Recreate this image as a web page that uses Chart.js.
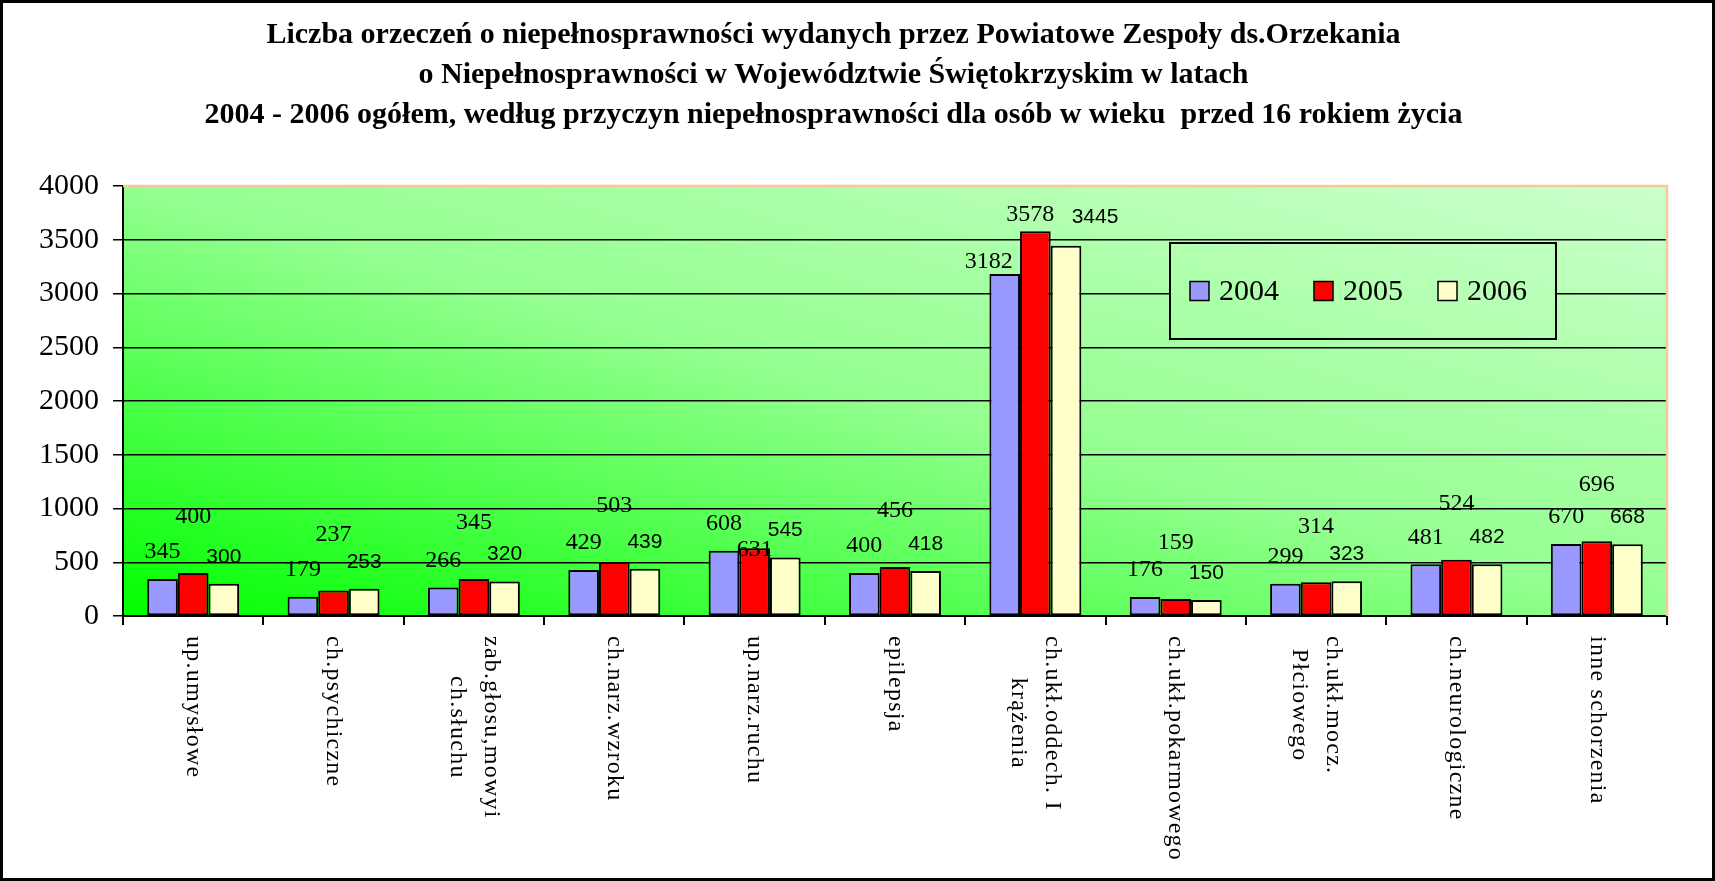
<!DOCTYPE html>
<html>
<head>
<meta charset="utf-8">
<script src="https://cdn.jsdelivr.net/npm/chart.js@4.4.0/dist/chart.umd.min.js"></script>
<style>
  html, body { margin: 0; padding: 0; background: #fff; }
  canvas { display: block; }
</style>
</head>
<body>
<canvas id="wykres" width="1715" height="881"></canvas>
<script>
// Dane
const kategorie = [
    'up.umysłowe',
    'ch.psychiczne',
    ['zab.głosu,mowyi', 'ch.słuchu'],
    'ch.narz.wzroku',
    'up.narz.ruchu',
    'epilepsja',
    ['ch.ukł.oddech. I', 'krążenia'],
    'ch.ukł.pokarmowego',
    ['ch.ukł.mocz.', 'Płciowego'],
    'ch.neurologiczne',
    'inne schorzenia'
];
const lata = ['2004', '2005', '2006'];
const dane2004 = [345, 179, 266, 429, 608, 400, 3182, 176, 299, 481, 670];
const dane2005 = [400, 237, 345, 503, 631, 456, 3578, 159, 314, 524, 696];
const dane2006 = [300, 253, 320, 439, 545, 418, 3445, 150, 323, 482, 668];
const osY = [0, 500, 1000, 1500, 2000, 2500, 3000, 3500, 4000];

const tytul = [
    'Liczba orzeczeń o niepełnosprawności wydanych przez Powiatowe Zespoły ds.Orzekania',
    'o Niepełnosprawności w Województwie Świętokrzyskim w latach',
    '2004 - 2006 ogółem, według przyczyn niepełnosprawności dla osób w wieku  przed 16 rokiem życia'
];

const kolory = ['#9999ff', '#ff0000', '#ffffcc'];

// Styl etykiet danych: odstęp nad słupkiem (px) dla serii + kilka ręcznych wyjątków jak w oryginale
const odstepy = [27, 56, 27];
const wyjatki = {
    '0:6': { dy: 12, dx: -16 },
    '1:4': { dy: -2, dx: 0 },
    '1:6': { dy: 17, dx: -5 },
    '2:6': { dy: 28, dx: 29 }
};
const fontyEtykiet = ['24px "Liberation Serif"', '24px "Liberation Serif"', '21px "Liberation Sans"'];

/**
 * Gradient "po przekątnej w górę" dopasowany do prostokąta obszaru wykresu
 */
function gradient(ctx, a) {
    const w = a.right - a.left, h = a.bottom - a.top;
    const gx = 1 / (2 * w), gy = -1 / (2 * h);
    const g2 = gx * gx + gy * gy;
    const g = ctx.createLinearGradient(a.left, a.bottom, a.left + gx / g2, a.bottom + gy / g2);
    g.addColorStop(0, '#00ff00');
    g.addColorStop(0.5, '#94ff90');
    g.addColorStop(1, '#ccffcc');
    return g;
}

const tlo = {
    id: 'tlo',
    beforeDraw(chart) {
        const { ctx, chartArea: a } = chart;
        ctx.save();
        ctx.fillStyle = '#fff';
        ctx.fillRect(0, 0, chart.width, chart.height);
        ctx.fillStyle = gradient(ctx, a);
        ctx.fillRect(a.left, a.top, a.right - a.left, a.bottom - a.top);
        ctx.restore();
    },
    afterDraw(chart) {
        const { ctx, chartArea: a } = chart;
        ctx.save();
        // brzoskwiniowa ramka u góry i z prawej
        ctx.strokeStyle = '#f8c898';
        ctx.lineWidth = 2.5;
        ctx.beginPath();
        ctx.moveTo(a.left, a.top);
        ctx.lineTo(a.right, a.top);
        ctx.lineTo(a.right, a.bottom);
        ctx.stroke();
        // ramka całego obrazka
        ctx.strokeStyle = '#000';
        ctx.lineWidth = 3;
        ctx.strokeRect(1.5, 1.5, chart.width - 3, chart.height - 3);
        ctx.restore();
    }
};

const etykiety = {
    id: 'etykiety',
    afterDatasetsDraw(chart) {
        const ctx = chart.ctx;
        chart.data.datasets.forEach((ds, i) => {
            const meta = chart.getDatasetMeta(i);
            ctx.save();
            ctx.font = fontyEtykiet[i];
            ctx.fillStyle = '#000';
            ctx.textAlign = 'center';
            ctx.textBaseline = 'middle';
            meta.data.forEach((bar, j) => {
                const w = wyjatki[i + ':' + j];
                const dy = w ? w.dy : odstepy[i];
                const dx = w ? w.dx : 0;
                ctx.fillText(String(ds.data[j]), bar.x + dx, bar.y - dy);
            });
            ctx.restore();
        });
    }
};

// Etykiety osi X obrócone o 90° zgodnie z ruchem wskazówek zegara
const etykietyX = {
    id: 'etykietyX',
    afterDraw(chart) {
        const ctx = chart.ctx;
        const sx = chart.scales.x;
        ctx.save();
        ctx.font = '24px "Liberation Serif"';
        ctx.letterSpacing = '1.25px';
        ctx.fillStyle = '#000';
        ctx.textAlign = 'center';
        ctx.textBaseline = 'middle';
        chart.data.labels.forEach((lab, i) => {
            const linie = Array.isArray(lab) ? lab : [lab];
            const maxW = Math.max(...linie.map(l => ctx.measureText(l).width));
            ctx.save();
            ctx.translate(sx.getPixelForValue(i), sx.top + 20 + maxW / 2);
            ctx.rotate(Math.PI / 2);
            linie.forEach((l, k) => ctx.fillText(l, 0, (k - (linie.length - 1) / 2) * 34));
            ctx.restore();
        });
        ctx.restore();
    }
};

const legenda = {
    id: 'legenda',
    afterDraw(chart) {
        const { ctx, chartArea: a } = chart;
        const bx = 1170, by = 243, bw = 386, bh = 96;
        ctx.save();
        ctx.fillStyle = gradient(ctx, a);
        ctx.fillRect(bx, by, bw, bh);
        ctx.strokeStyle = '#000';
        ctx.lineWidth = 2;
        ctx.strokeRect(bx, by, bw, bh);
        ctx.font = '30px "Liberation Serif"';
        ctx.textBaseline = 'middle';
        ctx.textAlign = 'left';
        const cy = by + bh / 2;
        chart.data.datasets.forEach((ds, i) => {
            const x = bx + 20 + i * 124;
            ctx.fillStyle = ds.backgroundColor;
            ctx.fillRect(x, cy - 9.5, 19, 19);
            ctx.lineWidth = 1.5;
            ctx.strokeRect(x, cy - 9.5, 19, 19);
            ctx.fillStyle = '#000';
            ctx.fillText(ds.label, x + 29, cy + 1);
        });
        ctx.restore();
    }
};

const serie = [dane2004, dane2005, dane2006];

new Chart(document.getElementById('wykres'), {
    type: 'bar',
    data: {
        labels: kategorie,
        datasets: lata.map((rok, i) => ({
            label: rok,
            data: serie[i],
            backgroundColor: kolory[i],
            borderColor: '#000',
            borderWidth: 2,
            borderSkipped: false,
            categoryPercentage: 0.655,
            barPercentage: 1.0
        }))
    },
    options: {
        responsive: false,
        animation: false,
        layout: { padding: { left: 0, right: 48, top: 0, bottom: 0 } },
        plugins: {
            legend: { display: false },
            tooltip: { enabled: false },
            title: {
                display: true,
                text: tytul,
                color: '#000',
                font: { family: '"Liberation Serif"', size: 30, weight: 'bold', lineHeight: 40 / 30 },
                padding: { top: 15, bottom: 51 }
            }
        },
        scales: {
            x: {
                grid: { display: true, drawOnChartArea: false, offset: true, color: '#000', lineWidth: 2, tickLength: 9 },
                border: { color: '#000', width: 2 },
                ticks: { display: false },
                afterFit: s => { s.height = 265; }
            },
            y: {
                min: 0,
                max: 4000,
                afterBuildTicks: s => { s.ticks = osY.map(v => ({ value: v })); },
                grid: {
                    color: c => (c.tick && c.tick.value === 4000) ? 'rgba(0,0,0,0)' : '#000',
                    tickColor: '#000',
                    lineWidth: 1.5,
                    tickLength: 10
                },
                border: { color: '#000', width: 2 },
                ticks: {
                    color: '#000',
                    padding: 14,
                    font: { family: '"Liberation Serif"', size: 30 },
                    callback: v => String(v)
                },
                afterFit: s => { s.width = 123; }
            }
        }
    },
    plugins: [tlo, etykiety, etykietyX, legenda]
});
</script>
</body>
</html>
